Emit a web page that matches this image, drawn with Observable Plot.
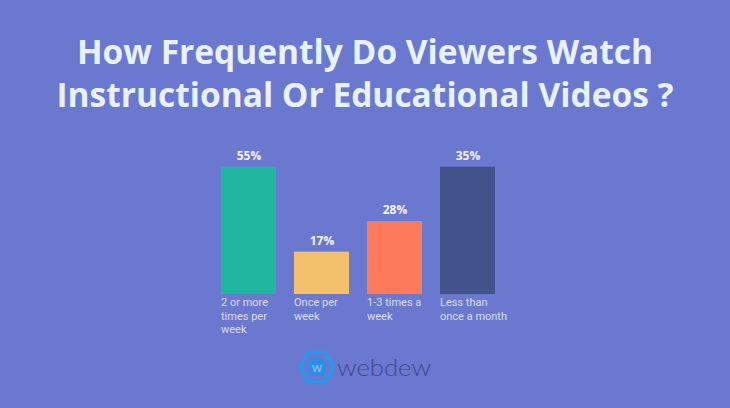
<!DOCTYPE html>
<html>
<head>
<meta charset="utf-8">
<script src="https://cdn.jsdelivr.net/npm/d3@7"></script>
<script src="https://cdn.jsdelivr.net/npm/@observablehq/plot@0.6"></script>
<style>
  html, body { margin: 0; padding: 0; }
  body { width: 730px; height: 408px; background: #6a78d0; position: relative; overflow: hidden; font-family: "Open Sans", sans-serif; }
  #title { position: absolute; left: 0; top: 30px; width: 730px; text-align: center; color: #e8f1fe; font-family: "Open Sans", sans-serif; font-weight: 700; font-size: 33.5px; line-height: 43.3px; font-variant-ligatures: none; }
  #chart { position: absolute; left: 0; top: 130px; }
  #logo { position: absolute; left: 0; top: 346px; }
</style>
</head>
<body>
<div id="title">How Frequently Do Viewers Watch<br>Instructional Or Educational Videos ?</div>
<div id="chart"></div>
<svg id="logo" width="730" height="44">
  <polygon points="300,21 308.5,6.3 325.5,6.3 334,21 325.5,35.7 308.5,35.7" fill="none" stroke="#1f9bf2" stroke-width="3" stroke-linejoin="round"/>
  <rect x="308" y="12" width="18" height="18" rx="7" fill="#2b8fe6"/>
  <text x="317" y="25.5" text-anchor="middle" font-family="Lato, sans-serif" font-weight="700" font-size="13" fill="#7fb6f5">w</text>
  <text x="337" y="30" font-family="Lato, sans-serif" font-weight="300" font-size="24" textLength="94" lengthAdjust="spacingAndGlyphs" fill="#3e4c8f">webdew</text>
</svg>
<script>
// Data
const categories = ["2 or more\ntimes per\nweek", "Once per\nweek", "1-3 times a\nweek", "Less than\nonce a month"];
const shares = [55, 17, 28, 35];              // printed percentages
const drawnHeights = [55, 18.3, 31.5, 55];      // bar lengths as drawn in the reference (same % units)
const barColors = ["#21b6a0", "#f3c06b", "#fd7a5d", "#44528b"];

const data = categories.map((c, i) => ({category: c, share: shares[i], drawn: drawnHeights[i], color: barColors[i]}));

const chart = Plot.plot({
  width: 730,
  height: 220,
  marginLeft: 219,
  marginRight: 233,
  marginTop: 36.7,
  marginBottom: 56,
  style: {background: "transparent", overflow: "visible"},
  x: {domain: categories, paddingInner: 0.24, paddingOuter: 0, axis: null},
  y: {domain: [0, 55], axis: null},
  color: {type: "identity"},
  marks: [
    Plot.barY(data, {x: "category", y: "drawn", fill: "color"}),
    Plot.text(data, {x: "category", y: "drawn", text: d => d.share + "%", dy: -11, fill: "#f2f4ff", fontWeight: 700, fontSize: 12, fontFamily: "'Open Sans', sans-serif"}),
    Plot.text(data, {x: "category", y: () => 0, text: "category", textAnchor: "start", lineAnchor: "top", dx: -28, dy: 2.5, lineHeight: 1.2, fill: "#dadff7", fontSize: 11, fontFamily: "Roboto, sans-serif"})
  ]
});
document.getElementById("chart").appendChild(chart);
</script>
</body>
</html>
